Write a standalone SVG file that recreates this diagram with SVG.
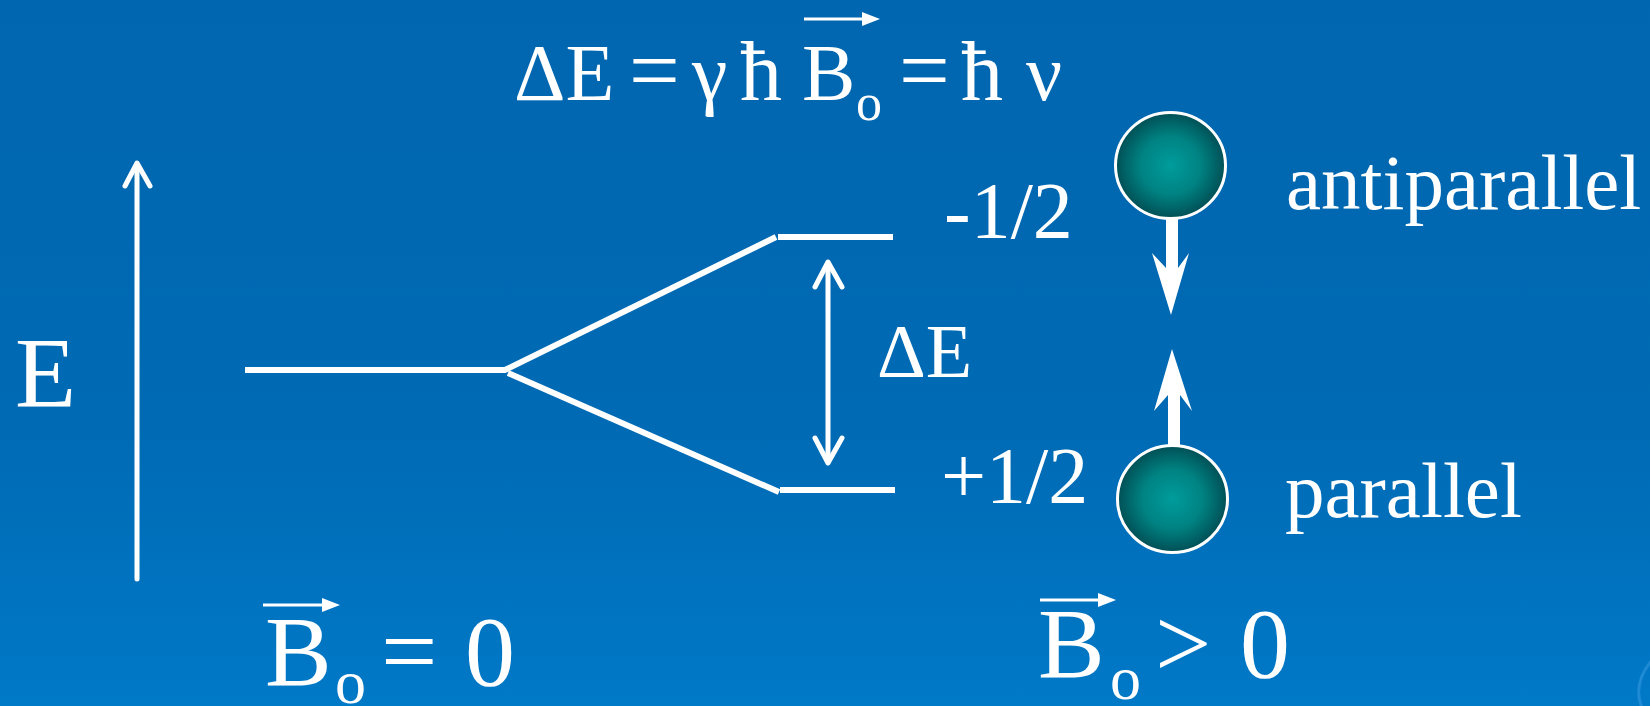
<svg xmlns="http://www.w3.org/2000/svg" width="1650" height="706" viewBox="0 0 1650 706">
  <defs>
    <linearGradient id="bg" x1="0" y1="0" x2="0" y2="1">
      <stop offset="0" stop-color="#0066AF"/>
      <stop offset="0.6" stop-color="#006AB4"/>
      <stop offset="1" stop-color="#0079C7"/>
    </linearGradient>
    <radialGradient id="ball" cx="0.5" cy="0.5" r="0.5">
      <stop offset="0" stop-color="#009C9C"/>
      <stop offset="0.55" stop-color="#008282"/>
      <stop offset="1" stop-color="#004F55"/>
    </radialGradient>
    <style>
      .t { font-family: "Liberation Serif", "Times New Roman", serif; fill: #ffffff; }
      .ln { stroke: #ffffff; stroke-width: 6; fill: none; }
      .ax { stroke: #ffffff; stroke-width: 5; fill: none; stroke-linecap: round; stroke-linejoin: round; }
      .ball { fill: url(#ball); stroke: #ffffff; stroke-width: 3; }
      .vec { stroke: #ffffff; stroke-width: 3; fill: none; }
      .head { fill: #ffffff; }
    </style>
  </defs>

  <rect x="0" y="0" width="1650" height="706" fill="url(#bg)"/>
  <path d="M1652,660 Q1632,684 1642,708" stroke="#2C93DC" stroke-width="3" fill="none" opacity="0.7"/>

  <g id="title">
    <text class="t" font-size="80" x="514" y="100">ΔE</text>
    <text class="t" font-size="90" x="629" y="101">=</text>
    <text class="t" font-size="80" x="692" y="100">γ</text>
    <text class="t" font-size="84" x="740" y="100">ħ</text>
    <text class="t" font-size="80" x="802" y="100">B</text>
    <text class="t" font-size="52" x="856" y="120">o</text>
    <line class="vec" x1="804" y1="19" x2="866" y2="19"/>
    <polygon class="head" points="862,12 880,19 862,26"/>
    <text class="t" font-size="90" x="899" y="101">=</text>
    <text class="t" font-size="84" x="961" y="100">ħ</text>
    <text class="t" font-size="80" x="1026" y="100">ν</text>
  </g>

  <g id="energy-axis">
    <line class="ax" x1="137" y1="579" x2="137" y2="164"/>
    <polyline class="ax" points="125,186 137,163 150,186"/>
    <text class="t" font-size="100" x="15" y="406">E</text>
  </g>

  <g id="connectors">
    <line class="ln" x1="245" y1="370" x2="506" y2="370"/>
    <line class="ln" x1="505" y1="370" x2="776" y2="237"/>
    <line class="ln" x1="508" y1="373" x2="779" y2="492"/>
    <line class="ax" x1="828" y1="264" x2="828" y2="461"/>
    <polyline class="ax" points="815,287 828,262 842,287"/>
    <polyline class="ax" points="815,438 828,463 842,438"/>
  </g>

  <g id="level-upper">
    <line class="ln" x1="778" y1="237" x2="893" y2="237"/>
    <text class="t" font-size="80" x="944" y="238">-1/2</text>
  </g>

  <g id="level-lower">
    <line class="ln" x1="780" y1="490" x2="895" y2="490"/>
    <text class="t" font-size="80" x="941" y="503">+1/2</text>
  </g>

  <g id="delta-e">
    <text class="t" font-size="76" x="877" y="377">ΔE</text>
  </g>

  <g id="spin-antiparallel">
    <polygon class="head" points="1166,216 1178,216 1178,268 1189,253 1171,315 1152,253 1166,268"/>
    <ellipse class="ball" cx="1170.5" cy="165.5" rx="55" ry="53"/>
    <text class="t" font-size="79" x="1286" y="209">antiparallel</text>
  </g>

  <g id="spin-parallel">
    <polygon class="head" points="1168,447 1180,447 1180,395 1192,411 1172,349 1154,411 1168,395"/>
    <ellipse class="ball" cx="1172.5" cy="499" rx="55" ry="53.5"/>
    <text class="t" font-size="79" x="1285" y="517">parallel</text>
  </g>

  <g id="label-b0-zero">
    <text class="t" font-size="100" x="265" y="685">B</text>
    <text class="t" font-size="62" x="335" y="703">o</text>
    <line class="vec" x1="263" y1="605" x2="326" y2="605"/>
    <polygon class="head" points="322,598 340,605 322,612"/>
    <text class="t" font-size="100" x="381" y="685">=</text>
    <text class="t" font-size="100" x="465" y="685">0</text>
  </g>

  <g id="label-b0-positive">
    <text class="t" font-size="100" x="1038" y="677">B</text>
    <text class="t" font-size="62" x="1110" y="699">o</text>
    <line class="vec" x1="1040" y1="600" x2="1101" y2="600"/>
    <polygon class="head" points="1098,593 1116,600 1098,607"/>
    <text class="t" font-size="100" x="1155" y="677">&gt;</text>
    <text class="t" font-size="100" x="1240" y="677">0</text>
  </g>
</svg>
